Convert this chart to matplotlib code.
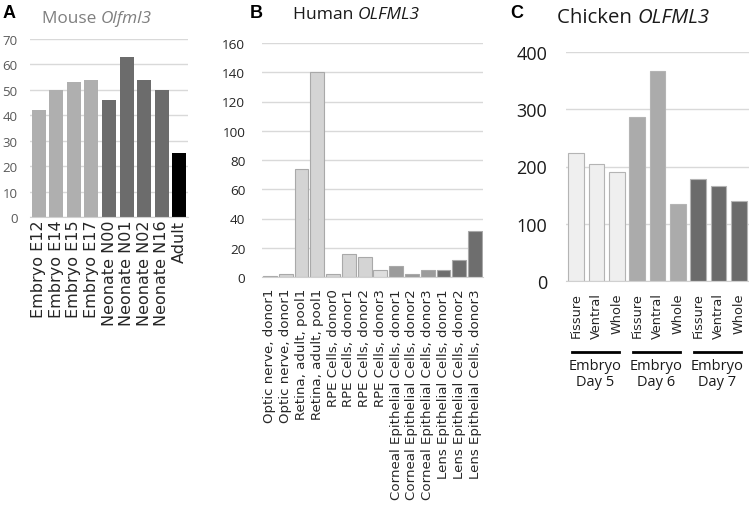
import matplotlib
matplotlib.use('Agg')
import matplotlib.pyplot as plt
import matplotlib.transforms as mtransforms

# A: mouse Olfml3
mouse_labels = ['Embryo E12', 'Embryo E14', 'Embryo E15', 'Embryo E17',
                'Neonate N00', 'Neonate N01', 'Neonate N02', 'Neonate N16', 'Adult']
mouse_values = [42, 50, 53, 54, 46, 63, 54, 50, 25]
mouse_colors = ['#afafaf'] * 4 + ['#6c6c6c'] * 4 + ['#000000']

# B: human OLFML3
human_labels = ['Optic nerve, donor1', 'Optic nerve, donor1',
                'Retina, adult, pool1', 'Retina, adult, pool1',
                'RPE Cells, donor0', 'RPE Cells, donor1', 'RPE Cells, donor2', 'RPE Cells, donor3',
                'Corneal Epithelial Cells, donor1', 'Corneal Epithelial Cells, donor2',
                'Corneal Epithelial Cells, donor3',
                'Lens Epithelial Cells, donor1', 'Lens Epithelial Cells, donor2',
                'Lens Epithelial Cells, donor3']
human_values = [0.7, 2.3, 74, 140, 2.3, 16, 13.4, 5, 7.5, 2.3, 4.8, 4.6, 11.4, 31.2]
human_colors = ['#d4d4d4'] * 7 + ['#dedede'] + ['#9b9b9b'] * 3 + ['#6e6e6e'] * 3

# C: chicken OLFML3
chicken_labels = ['Fissure', 'Ventral', 'Whole'] * 3
chicken_values = [223, 205, 190, 287, 366, 134, 179, 166, 140]
chicken_groups = ['Embryo\nDay 5', 'Embryo\nDay 6', 'Embryo\nDay 7']
chicken_colors = ['#efefef'] * 3 + ['#ababab'] * 3 + ['#6b6b6b'] * 3

FONT = 'Open Sans'
ROT_FONT = 'DejaVu Sans'  # wide face for the rotated category labels
plt.rcParams['font.family'] = FONT

W, H = 749, 506


def box(x0, x1, ytop, ybot):
    # pixel box -> figure fraction rect
    return [x0 / W, 1 - ybot / H, (x1 - x0) / W, (ybot - ytop) / H]


def style(ax, ymax, step, size, color, pad, xpad):
    ax.set_ylim(0, ymax)
    ax.set_yticks(range(0, ymax + 1, step))
    ax.grid(axis='y', color='#d9d9d9', lw=1)
    ax.set_axisbelow(True)
    for s in ['top', 'right', 'left']:
        ax.spines[s].set_visible(False)
    ax.spines['bottom'].set_color('#d0d0d0')
    ax.tick_params(axis='y', length=0, labelsize=size, labelcolor=color, pad=pad)
    ax.tick_params(axis='x', length=0, pad=xpad)


def title(fig, x, y, plain, ital, size, color):
    t = fig.text(x / W, 1 - y / H, plain, fontsize=size, color=color, va='baseline')
    fig.add_artist(plt.Annotation(ital, xy=(1, 0), xycoords=t, fontsize=size,
                                  color=color, style='italic', va='bottom'))


fig = plt.figure(figsize=(W / 100, H / 100), dpi=100)

# panel A
axA = fig.add_axes(box(30, 188, 40, 218))
xa = range(len(mouse_values))
axA.bar(xa, mouse_values, width=0.8, color=mouse_colors)
axA.set_xlim(-0.5, len(mouse_values) - 0.5)
style(axA, 70, 10, 9.5, '#595959', 9, 2)
axA.set_xticks(list(xa))
axA.set_xticklabels(mouse_labels, rotation=90, fontsize=11.5, color='#262626',
                    family=ROT_FONT)

# panel B
axB = fig.add_axes(box(262, 483, 44, 278))
xb = range(len(human_values))
axB.bar(xb, human_values, width=0.88, color=human_colors, edgecolor='#a9a9a9', lw=0.8)
axB.set_xlim(-0.5, len(human_values) - 0.5)
style(axB, 160, 20, 9.7, '#262626', 12, 8)
axB.set_xticks(list(xb))
axB.set_xticklabels(human_labels, rotation=90, fontsize=9.6, color='#262626',
                    family=ROT_FONT)

# panel C
axC = fig.add_axes(box(566, 749, 53, 282))
xc = range(len(chicken_values))
axC.bar(xc, chicken_values, width=0.77, color=chicken_colors, edgecolor='#b4b4b4', lw=0.8)
axC.set_xlim(-0.5, len(chicken_values) - 0.5)
style(axC, 400, 100, 13, '#1a1a1a', 13.5, 8)
axC.set_xticks(list(xc))
axC.set_xticklabels(chicken_labels, rotation=90, fontsize=9.3, color='#262626',
                    family=ROT_FONT)

tr = mtransforms.blended_transform_factory(axC.transData, axC.transAxes)
for g, name in enumerate(chicken_groups):
    mid = g * 3 + 0.95
    axC.plot([mid - 1.15, mid + 1.15], [-0.31, -0.31], color='black', lw=2,
             transform=tr, clip_on=False)
    axC.text(mid, -0.335, name, transform=tr, ha='center', va='top',
             fontsize=10.5, color='#1a1a1a', linespacing=1.1)

# titles and panel letters
title(fig, 42, 23, 'Mouse ', 'Olfml3', 12.4, '#7f7f7f')
title(fig, 293, 19, 'Human ', 'OLFML3', 12.6, '#1a1a1a')
title(fig, 557, 23, 'Chicken ', 'OLFML3', 14.7, '#1a1a1a')
for letter, x in [('A', 3), ('B', 250), ('C', 510)]:
    fig.text(x / W, 1 - 5 / H, letter, fontsize=13, fontweight='bold',
             family='Liberation Sans', va='top')

fig.savefig('out.png', dpi=100)
